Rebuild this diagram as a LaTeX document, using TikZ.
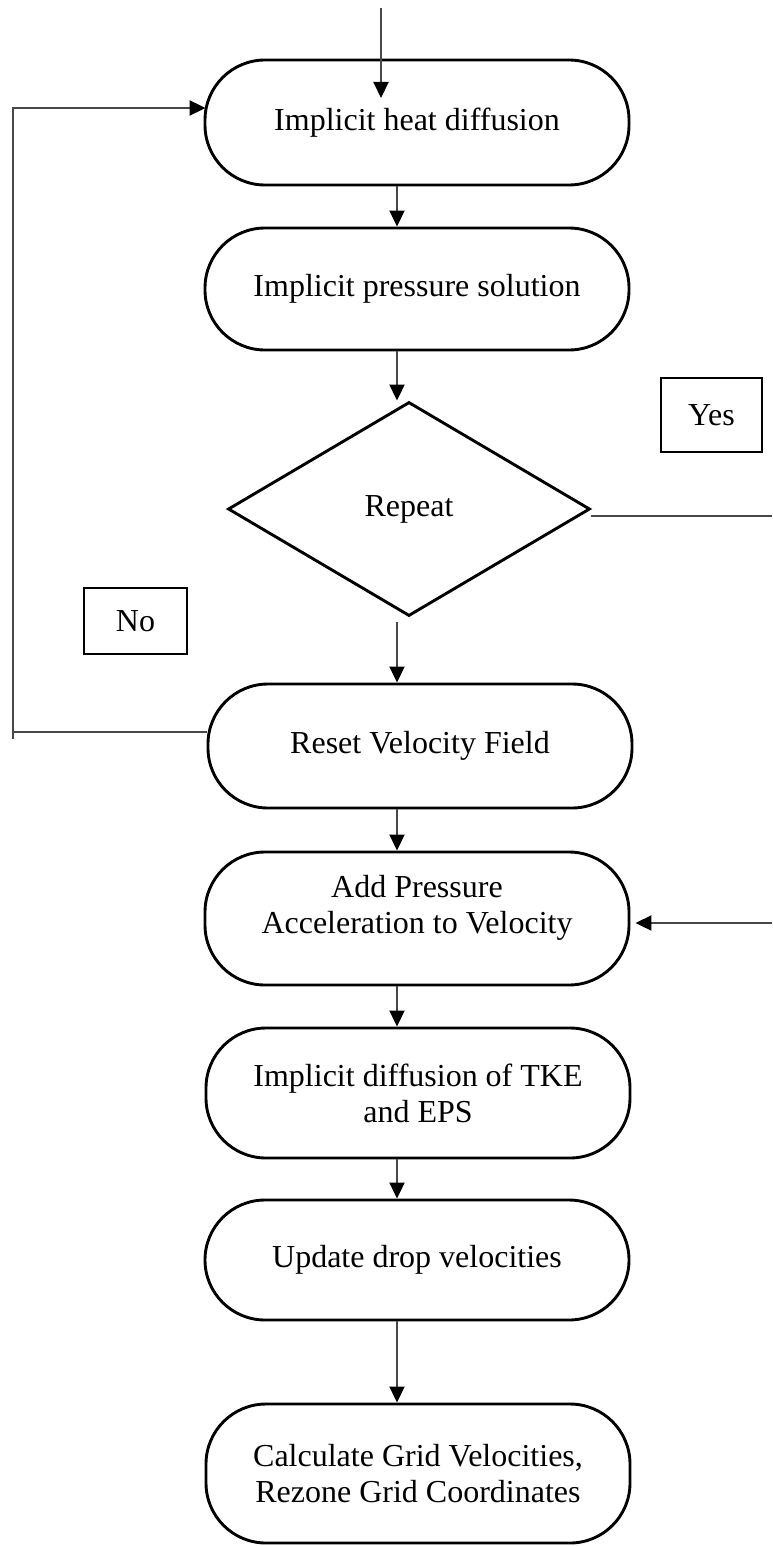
\documentclass[tikz,border=0pt]{standalone}
\usepackage{fontspec}
\setmainfont{Liberation Serif}
\usetikzlibrary{shapes.geometric,arrows.meta,calc}
\begin{document}
\begin{tikzpicture}[x=1pt,y=1pt,
  txt/.style={font=\fontsize{32}{36}\selectfont},
  proc/.style={txt,draw=black,line width=2.9pt,rounded corners=60pt,minimum width=424pt,align=center,inner sep=0pt},
  dec/.style={txt,draw=black,line width=2.9pt,diamond,minimum width=362pt,minimum height=214pt,inner sep=0pt},
  lbl/.style={txt,draw=black,line width=2.9pt,inner sep=0pt},
  conn/.style={draw=black!72,line width=2pt},
  arr/.style={conn,-{Triangle[length=16pt,width=15pt,color=black]}}
]
\useasboundingbox (0,0) rectangle (772,-1546);

\node[proc,minimum height=125pt] (N1) at (417,-122.5) {Implicit heat diffusion};
\node[proc,minimum height=122pt] (N2) at (417,-289) {Implicit pressure solution};
\node[dec] (D) at (409,-509) {Repeat};
\node[proc,minimum height=124pt] (N3) at (420,-746) {Reset Velocity Field};
\node[proc,minimum height=133pt,text depth=28pt] (N4) at (417,-918.5) {Add Pressure\\Acceleration to Velocity};
\node[proc,minimum height=130pt] (N5) at (418,-1093) {Implicit diffusion of TKE\\and EPS};
\node[proc,minimum height=120pt] (N6) at (417,-1260) {Update drop velocities};
\node[proc,minimum height=139pt] (N7) at (418,-1473.5) {Calculate Grid Velocities,\\Rezone Grid Coordinates};

\node[lbl,minimum width=101pt,minimum height=74pt] (Yes) at (711.5,-415) {Yes};
\node[lbl,minimum width=103pt,minimum height=66pt] (No) at (135.5,-621) {No};

\coordinate (cx) at (397,0);
\coordinate (T0) at (381,-8);
\coordinate (T1) at (381,-98);
\coordinate (L1) at (13,-732);
\coordinate (L0) at (13,-739);
\coordinate (L2) at (13,-108);
\coordinate (R1) at (772,-516);
\coordinate (R2) at (772,-923);
\coordinate (Dbot) at ($(cx |- D.south)+(0,-5)$);

\draw[arr] (T0) -- (T1);
\draw[arr] (cx |- N1.south) -- (cx |- N2.north);
\draw[arr] (cx |- N2.south) -- (cx |- D.north);
\draw[arr] (Dbot) -- (cx |- N3.north);
\draw[arr] (cx |- N3.south) -- (cx |- N4.north);
\draw[arr] (cx |- N4.south) -- (cx |- N5.north);
\draw[arr] (cx |- N5.south) -- (cx |- N6.north);
\draw[arr] (cx |- N6.south) -- (cx |- N7.north);

\draw[conn] (N3.west |- L1) -- (L1);
\draw[arr] (L0) -- (L2) -- ($(L2 -| N1.west)+(2,0)$);

\draw[conn] (D.east |- R1) -- (R1);
\draw[arr] (R2) -- ($(R2 -| N4.east)+(5,0)$);
\end{tikzpicture}
\end{document}
